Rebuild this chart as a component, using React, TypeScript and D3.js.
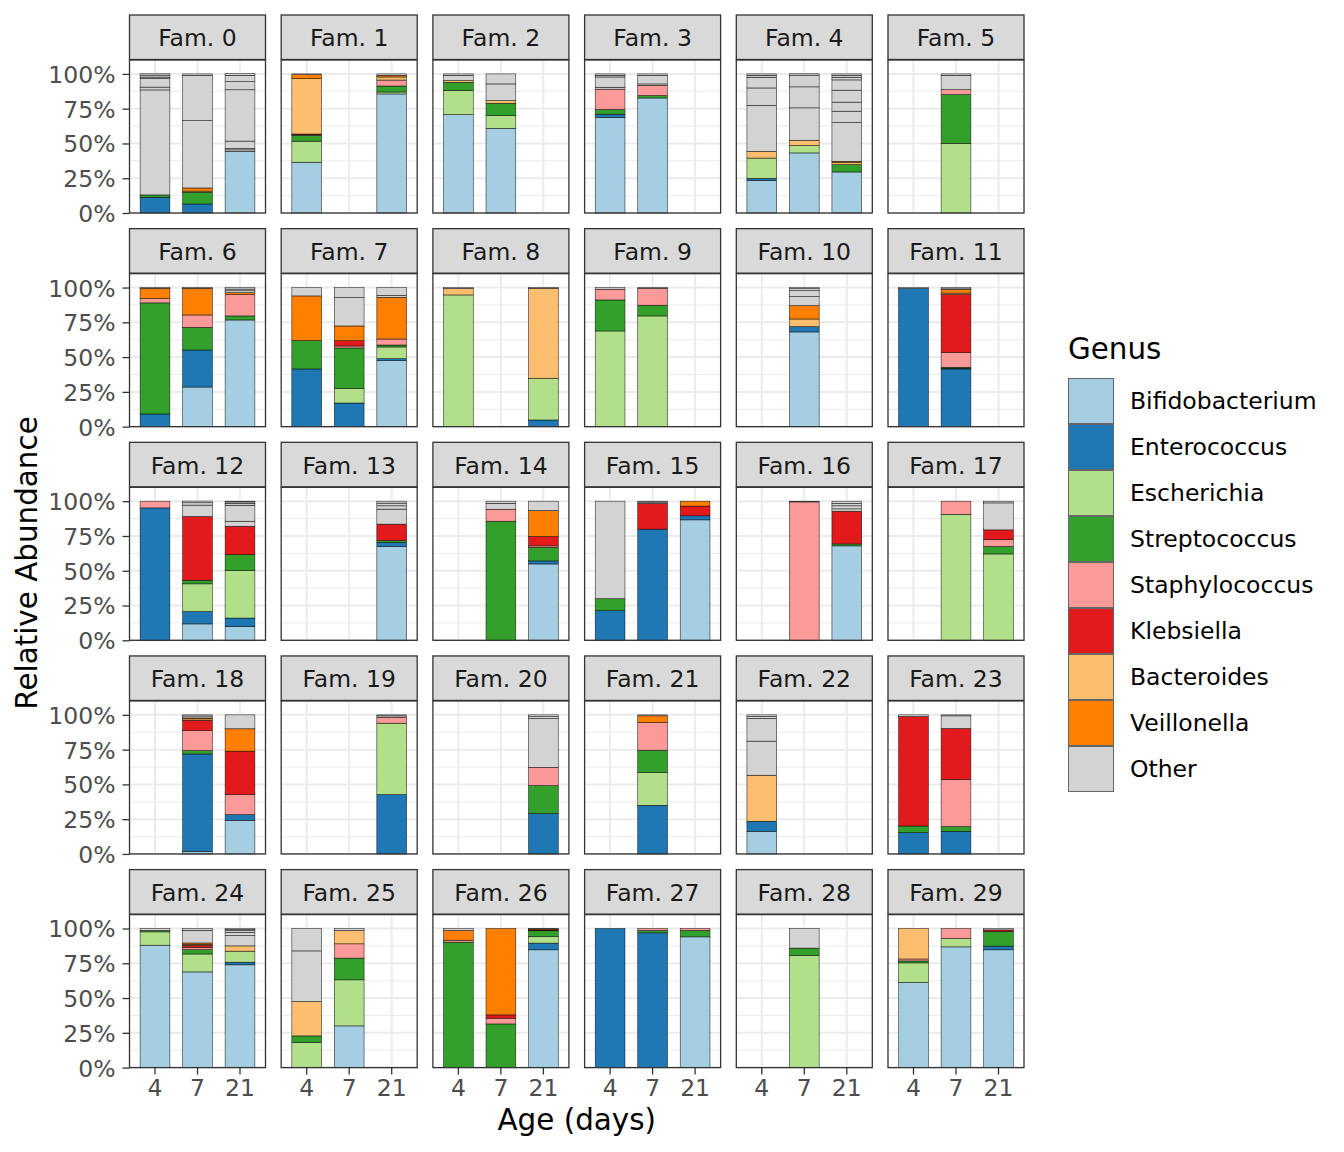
import React, { useEffect, useRef } from 'react';
import * as d3 from 'd3';

// Facets, x categories and legend
const families = d3.range(30).map(i => `Fam. ${i}`);
const days = ['4', '7', '21'];
const genera = [
  'Bifidobacterium', 'Enterococcus', 'Escherichia', 'Streptococcus',
  'Staphylococcus', 'Klebsiella', 'Bacteroides', 'Veillonella', 'Other',
];
const genusColors = [
  '#A6CEE3', '#1F78B4', '#B2DF8A', '#33A02C',
  '#FB9A99', '#E31A1C', '#FDBF6F', '#FF7F00', '#D3D3D3',
];
const yTicks = [0, 0.25, 0.5, 0.75, 1];
const yMinorTicks = [0.125, 0.375, 0.625, 0.875];

// Relative abundance (%) per family as [day 4, day 7, day 21]
const bifidobacterium = [
  [0, 0, 44.4], [36.5, 0, 85.6], [70.7, 60.9, 0], [68.8, 82.7, 0], [23.5, 43.2, 29.5], [0, 0, 0],
  [0, 28.5, 76.7], [0, 0, 47.5], [0, 0, 0], [0, 0, 0], [0, 68.1, 0], [0, 0, 0],
  [0, 11.8, 9.8], [0, 0, 67.4], [0, 0, 54.9], [0, 0, 86.6], [0, 0, 67.9], [0, 0, 0],
  [0, 1.9, 24.2], [0, 0, 0], [0, 0, 0], [0, 0, 0], [16.3, 0, 0], [0, 0, 0],
  [88, 68.8, 73.9], [0, 30, 0], [0, 0, 84.7], [0, 0, 94], [0, 0, 0], [61.2, 86.8, 84.7],
];
const enterococcus = [
  [11.3, 6.5, 0], [0, 0, 0], [0, 0, 0], [2.2, 0, 0], [1.4, 0, 0], [0, 0, 0],
  [9.1, 26.6, 0], [41.5, 17, 1.4], [0, 0, 4.8], [0, 0, 0], [0, 3.8, 0], [99.3, 41.5, 0],
  [95.2, 8.9, 6.2], [0, 0, 2.9], [0, 0, 2.2], [21.3, 79.9, 2.9], [0, 0, 0], [0, 0, 0],
  [0, 70, 4.1], [0, 0, 42.7], [0, 0, 29], [0, 35, 0], [7.2, 0, 0], [15.3, 16.3, 0],
  [0, 0, 1.9], [0, 0, 0], [0, 0, 4.8], [100, 96.9, 0], [0, 0, 0], [0, 0, 2.6],
];
const escherichia = [
  [0, 0, 0], [15.1, 0, 1.4], [17.5, 9.1, 0], [0, 0, 0], [14.6, 5.3, 0], [0, 50.1, 0],
  [0, 0, 0], [0, 10.3, 8.4], [94.7, 0, 30], [68.8, 79.6, 0], [0, 0, 0], [0, 0.5, 0],
  [0, 19.9, 34.1], [0, 0, 0], [0, 0, 0], [0, 0, 0], [0, 0, 0], [0, 90.6, 62.1],
  [0, 0, 0], [0, 0, 51.3], [0, 0, 0], [0, 23.5, 0], [0, 0, 0], [0, 0, 0],
  [9.6, 12.9, 7.9], [18.2, 33.1, 0], [0, 0, 4.6], [0, 0, 0], [0, 80.6, 0], [14.1, 6, 0],
];
const streptococcus = [
  [1.7, 8.4, 0], [4.3, 0, 4.3], [5.8, 8.9, 0], [3.4, 1.7, 0], [0, 0, 5.3], [0, 35, 0],
  [79.9, 16.3, 2.9], [20.4, 29.3, 1.4], [0, 0, 0], [22.3, 7.7, 0], [0, 0, 0], [0, 0.7, 0],
  [0, 2.6, 11.5], [0, 0, 1.4], [0, 85.6, 9.8], [8.6, 0, 0], [0, 0, 1.4], [0, 0, 5.3],
  [0, 2.4, 0], [0, 0, 0], [0, 0, 20.1], [0, 16.1, 0], [0, 0, 0], [4.8, 3.4, 0],
  [1, 3.1, 0], [4.6, 15.6, 0], [90.2, 31.4, 4.3], [0, 1.7, 4.6], [0, 5.3, 0], [1.4, 0, 10.6],
];
const staphylococcus = [
  [0, 0, 0], [0.4, 0, 4.3], [0, 0, 0], [14.6, 7.4, 0], [0, 0, 0], [0, 3.6, 0],
  [3.1, 8.9, 15.3], [0, 1.4, 4.3], [0, 0, 0], [7.7, 12.2, 0], [0, 0, 0], [0, 10.6, 0],
  [4.8, 0, 0], [0, 0, 0], [0, 8.6, 1], [0, 0, 0], [0, 99.5, 0], [0, 9.4, 5],
  [0, 14.4, 14.4], [0, 0, 4.3], [0, 0, 13.2], [0, 19.9, 0], [0, 0, 0], [0, 33.8, 0],
  [0, 1.7, 0], [0, 10.3, 0], [1.4, 4.1, 0], [0, 1.4, 1.4], [0, 0, 0], [1.4, 7.2, 0],
];
const klebsiella = [
  [0, 0, 0], [0.5, 0, 0], [0, 0, 0], [0, 0, 0], [0, 0, 0], [0, 0, 0],
  [0, 0, 0], [0, 3.8, 0], [0, 0, 0], [0, 0, 0], [0, 0, 0], [0, 41.7, 0],
  [0, 45.8, 20.4], [0, 0, 11.8], [0, 0, 6.7], [0, 18.5, 7], [0, 0, 23.5], [0, 0, 7],
  [0, 7.4, 31.2], [0, 0, 0], [0, 0, 0], [0, 0, 0], [0, 0, 0], [78.7, 36.7, 0],
  [0, 1.4, 0], [0, 0, 0], [0, 2.4, 0.5], [0, 0, 0], [0, 0, 0], [0, 0, 1.1],
];
const bacteroides = [
  [0, 0.8, 0], [39.8, 0, 2.2], [1.2, 1.9, 0], [0, 0, 0], [4.8, 3.8, 1.5], [0, 0, 0],
  [0, 0, 0], [0, 0, 0], [4.6, 0, 64.7], [0, 0, 0], [0, 5.5, 0], [0, 1, 0],
  [0, 0, 0], [0, 0, 0], [0, 0, 0], [0, 0, 0], [0, 0, 0], [0, 0, 0],
  [0, 1, 0], [0, 0, 0], [0, 0, 0], [0, 0, 0], [33.1, 0, 0], [0, 0, 0],
  [0, 0.7, 3.8], [24.7, 9.6, 0], [0, 0, 0], [0, 0, 0], [0, 0, 0], [21.9, 0, 0],
];
const veillonella = [
  [0, 2.3, 0], [2.9, 0, 1.2], [0, 0, 0], [0, 0, 0], [0, 0, 0.9], [0, 0, 0],
  [7.4, 19.2, 1.4], [32.1, 10.6, 30], [0, 0, 0], [0, 0, 0], [0, 9.6, 0], [0, 2.6, 0],
  [0, 0, 0], [0, 0, 0], [0, 0, 18.7], [0, 0, 3.5], [0, 0, 0], [0, 0, 0],
  [0, 0.7, 16.1], [0, 0, 0], [0, 0, 0], [0, 4.8, 0], [0, 0, 0], [0, 0, 0],
  [0, 1, 0], [0, 0, 0], [7, 62.1, 0.7], [0, 0, 0], [0, 0, 0], [0, 0, 0],
];
// "Other" is several minor genera, each drawn as its own grey segment
const otherGenera: number[][][] = [
  [[75.5, 2, 6.2, 1, 1.4, 1], [48.4, 32.6, 1], [1, 1, 5.3, 36.9, 5.8, 4.6, 1.2]],
  [[0.5], [], [1]],
  [[3.8, 1], [12, 7.2], []],
  [[1.4, 7.4, 1.2, 1], [1, 6.2, 1], []],
  [[33.1, 12.5, 7.7, 1.4, 1], [23.3, 15.1, 8.4, 1], [27.8, 8.2, 6.5, 8.6, 7.4, 1.9, 1.4, 1]],
  [[], [10.3, 1], []],
  [[0.5], [0.5], [1.4, 1.2, 1]],
  [[6], [20.4, 7.2], [1.4, 5.5]],
  [[0.7], [], [0.5]],
  [[1.2], [0.5], []],
  [[], [6.5, 4.3, 1.4, 0.7], []],
  [[0.7], [0.5, 0.9], []],
  [[], [8.2, 1.7, 1.2], [3.6, 11.5, 1.4, 1, 0.5]],
  [[], [], [10.8, 2.4, 1.9, 1.4]],
  [[], [4.3, 1.5], [6.7]],
  [[70.1], [1, 0.6], []],
  [[], [0.5], [1.7, 2.2, 1.7, 1.6]],
  [[], [], [19.4, 1.2]],
  [[], [1.4, 0.8], [10]],
  [[], [], [1, 0.7]],
  [[], [], [35, 1.4, 1.3]],
  [[], [0.7], []],
  [[24.5, 16.3, 1.4, 1.2], [], []],
  [[1.2], [9.1, 0.7], []],
  [[1.4], [9.1, 1.3], [7.4, 2.4, 1.2, 0.7, 0.7]],
  [[36.4, 16.1], [1.4], []],
  [[1.4], [], [0.4]],
  [[], [], []],
  [[], [14.1], []],
  [[], [], [1]],
];

const App: React.FC = () => {
  const svgRef = useRef<SVGSVGElement>(null);

  useEffect(() => {
    if (!svgRef.current) return;
    const svg = d3.select(svgRef.current);
    svg.selectAll('*').remove();

    const font = 'DejaVu Sans, sans-serif';
    const textSize = 23.5;
    const titleSize = 29.4;

    // Facet grid dimensions
    const left0 = 129.5;
    const colStep = 151.7;
    const top0 = 60;
    const rowStep = 213.65;
    const panelW = 136;
    const panelH = 153;
    const stripH = 44.5;
    const nCol = 6;
    const nRow = 5;

    const x = d3.scaleBand<string>()
      .domain(days)
      .range([0, panelW])
      .paddingInner(0.3)
      .paddingOuter(0.25);
    const y = d3.scaleLinear().domain([0, 1.1]).range([panelH, 0]);

    const abundance = [
      bifidobacterium, enterococcus, escherichia, streptococcus,
      staphylococcus, klebsiella, bacteroides, veillonella,
    ];
    const maxOther = d3.max(otherGenera, f => d3.max(f, s => s.length)) || 0;
    const mainKeys = genera.slice(0, 8);
    const otherKeys = d3.range(maxOther).map(i => `Other ${i + 1}`);
    const keys = [...mainKeys, ...otherKeys];

    families.forEach((fam, f) => {
      const col = f % nCol;
      const row = Math.floor(f / nCol);
      const g = svg.append('g')
        .attr('transform', `translate(${left0 + col * colStep},${top0 + row * rowStep})`);

      // Panel background and grid
      g.append('rect').attr('width', panelW).attr('height', panelH).attr('fill', 'white');
      g.selectAll('.minor').data(yMinorTicks).join('line')
        .attr('x1', 0).attr('x2', panelW)
        .attr('y1', d => y(d)).attr('y2', d => y(d))
        .attr('stroke', '#EBEBEB').attr('stroke-width', 1);
      g.selectAll('.major').data(yTicks).join('line')
        .attr('x1', 0).attr('x2', panelW)
        .attr('y1', d => y(d)).attr('y2', d => y(d))
        .attr('stroke', '#EBEBEB').attr('stroke-width', 2);
      g.selectAll('.vmajor').data(days).join('line')
        .attr('x1', d => (x(d) || 0) + x.bandwidth() / 2)
        .attr('x2', d => (x(d) || 0) + x.bandwidth() / 2)
        .attr('y1', 0).attr('y2', panelH)
        .attr('stroke', '#EBEBEB').attr('stroke-width', 2);

      // Stack the genera for each sampled day
      const rows = days.map((day, j) => {
        const r: Record<string, any> = { day };
        mainKeys.forEach((k, gi) => { r[k] = abundance[gi][f][j] / 100; });
        otherKeys.forEach((k, oi) => { r[k] = (otherGenera[f][j][oi] || 0) / 100; });
        return r;
      });
      const series = d3.stack<Record<string, any>>().keys(keys)(rows);

      series.forEach((s, si) => {
        g.append('g')
          .selectAll('rect')
          .data(s.filter(d => d[1] - d[0] > 0))
          .join('rect')
          .attr('x', d => x(d.data.day) || 0)
          .attr('width', x.bandwidth())
          .attr('y', d => y(d[1]))
          .attr('height', d => y(d[0]) - y(d[1]))
          .attr('fill', genusColors[Math.min(si, 8)])
          .attr('stroke', 'black')
          .attr('stroke-opacity', 0.8)
          .attr('stroke-width', 0.6);
      });

      // Panel border
      g.append('rect')
        .attr('width', panelW).attr('height', panelH)
        .attr('fill', 'none').attr('stroke', '#333333').attr('stroke-width', 1.3);

      // Facet strip
      g.append('rect')
        .attr('y', -stripH - 0.5).attr('width', panelW).attr('height', stripH)
        .attr('fill', '#D9D9D9').attr('stroke', '#333333').attr('stroke-width', 1.3);
      g.append('text')
        .attr('x', panelW / 2).attr('y', -stripH / 2 + 8.5)
        .attr('text-anchor', 'middle')
        .attr('font-family', font).attr('font-size', textSize).attr('fill', '#1A1A1A')
        .text(fam);

      // Y axis on the first column
      if (col === 0) {
        const ax = g.append('g')
          .call(d3.axisLeft(y).tickValues(yTicks).tickFormat(d3.format('.0%')).tickSize(7).tickPadding(7));
        ax.select('.domain').remove();
        ax.selectAll('line').attr('stroke', '#333333').attr('stroke-width', 1.3);
        ax.selectAll('text')
          .attr('font-family', font).attr('font-size', textSize).attr('fill', '#4D4D4D')
          .attr('dy', '0.36em');
      }

      // X axis on the bottom row
      if (row === nRow - 1) {
        const ax = g.append('g')
          .attr('transform', `translate(0,${panelH})`)
          .call(d3.axisBottom(x).tickSize(7).tickPadding(5));
        ax.select('.domain').remove();
        ax.selectAll('line').attr('stroke', '#333333').attr('stroke-width', 1.3);
        ax.selectAll('text')
          .attr('font-family', font).attr('font-size', textSize).attr('fill', '#4D4D4D');
      }
    });

    // Axis titles
    svg.append('text')
      .attr('transform', 'translate(37,563) rotate(-90)')
      .attr('text-anchor', 'middle')
      .attr('font-family', font).attr('font-size', titleSize).attr('fill', 'black')
      .text('Relative Abundance');
    svg.append('text')
      .attr('x', left0 + (panelW + (nCol - 1) * colStep) / 2).attr('y', 1130)
      .attr('text-anchor', 'middle')
      .attr('font-family', font).attr('font-size', titleSize).attr('fill', 'black')
      .text('Age (days)');

    // Legend
    const legend = svg.append('g').attr('transform', 'translate(1068,0)');
    legend.append('text')
      .attr('x', 0).attr('y', 359)
      .attr('font-family', font).attr('font-size', titleSize).attr('fill', 'black')
      .text('Genus');
    const items = legend.selectAll('.item').data(genera).join('g')
      .attr('transform', (_, i) => `translate(0,${378 + i * 46})`);
    items.append('rect')
      .attr('x', 0.5).attr('y', 0.5).attr('width', 45).attr('height', 45)
      .attr('fill', (_, i) => genusColors[i])
      .attr('stroke', '#666666').attr('stroke-width', 1);
    items.append('text')
      .attr('x', 62).attr('y', 23).attr('dy', '0.36em')
      .attr('font-family', font).attr('font-size', textSize).attr('fill', 'black')
      .text(d => d);
  }, []);

  return (
    <svg
      ref={svgRef}
      width={1344}
      height={1152}
      style={{ position: 'absolute', left: 0, top: 0, background: 'white' }}
    />
  );
};

export default App;
